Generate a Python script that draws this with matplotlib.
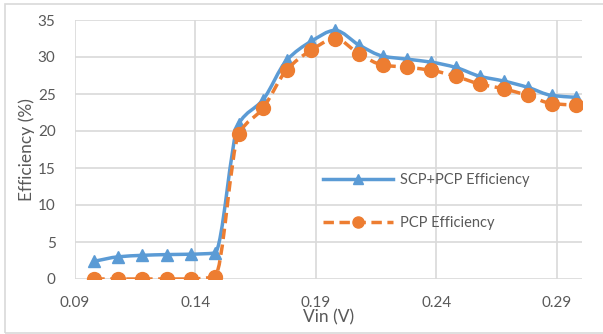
import matplotlib
matplotlib.use("Agg")
import matplotlib.pyplot as plt
import numpy as np
from matplotlib.path import Path
from matplotlib.patches import PathPatch, Rectangle
from matplotlib.lines import Line2D

plt.rcParams['font.family'] = ['Lato', 'DejaVu Sans']

# data
vin = [0.098, 0.108, 0.118, 0.128, 0.138, 0.148, 0.158, 0.168, 0.178, 0.188,
       0.198, 0.208, 0.218, 0.228, 0.238, 0.248, 0.258, 0.268, 0.278, 0.288, 0.298]
eff_scp_pcp = [2.4, 3.0, 3.2, 3.3, 3.35, 3.5, 21.0, 24.2, 29.6, 32.1,
               33.6, 31.6, 30.1, 29.7, 29.3, 28.6, 27.4, 26.75, 25.9, 24.8, 24.55]
eff_pcp = [0.0, 0.0, 0.0, 0.0, 0.0, 0.3, 19.6, 23.06, 28.3, 30.9,
           32.5, 30.4, 28.9, 28.6, 28.2, 27.4, 26.35, 25.7, 24.8, 23.7, 23.5]

labels = ['SCP+PCP Efficiency', 'PCP Efficiency']
xticks = [0.09, 0.14, 0.19, 0.24, 0.29]
yticks = [0, 5, 10, 15, 20, 25, 30, 35]

BLUE = '#5B9BD5'
ORANGE = '#ED7D31'
GRID = '#D9D9D9'
TXT = '#595959'


def smooth_path(x, y):
    # smoothed line like excel's: bezier segments through the points,
    # tangents from the harmonic mean of neighbouring slopes (no overshoot)
    x = np.asarray(x, float)
    y = np.asarray(y, float)
    n = len(x)
    h = np.diff(x)
    d = np.diff(y) / h
    m = np.zeros(n)
    m[0], m[-1] = d[0], d[-1]
    for i in range(1, n - 1):
        if d[i - 1] * d[i] > 0:
            m[i] = 2 * d[i - 1] * d[i] / (d[i - 1] + d[i])
    verts = [(x[0], y[0])]
    codes = [Path.MOVETO]
    for i in range(n - 1):
        verts += [(x[i] + h[i] / 3, y[i] + m[i] * h[i] / 3),
                  (x[i + 1] - h[i] / 3, y[i + 1] - m[i + 1] * h[i] / 3),
                  (x[i + 1], y[i + 1])]
        codes += [Path.CURVE4] * 3
    return Path(verts, codes)


fig = plt.figure(figsize=(6.03, 3.34), dpi=100)
ax = fig.add_axes([75 / 603, 1 - 279 / 334, 507 / 603, 259 / 334])

ax.add_patch(PathPatch(smooth_path(vin, eff_scp_pcp), fill=False, edgecolor=BLUE,
                       lw=2.5, capstyle='round', joinstyle='round', zorder=3))
ax.plot(vin, eff_scp_pcp, ls='none', marker='^', ms=9, color=BLUE, zorder=4)

ax.add_patch(PathPatch(smooth_path(vin, eff_pcp), fill=False, edgecolor=ORANGE,
                       lw=2.5, linestyle=(0, (3, 1.6)), zorder=5))
ax.plot(vin, eff_pcp, ls='none', marker='o', ms=10, color=ORANGE, zorder=6)

ax.set_xlim(0.09, 0.3005)
ax.set_ylim(0, 35)
ax.set_xticks(xticks)
ax.set_xticklabels(['%.2f' % v for v in xticks])
ax.set_yticks(yticks)
ax.grid(True, color=GRID, lw=1.2)
ax.set_axisbelow(True)
for s in ax.spines.values():
    s.set_visible(False)
ax.tick_params(axis='both', length=0, labelsize=11, labelcolor=TXT)
ax.tick_params(axis='x', pad=12)
ax.tick_params(axis='y', pad=14)
ax.set_xlabel('Vin (V)', fontsize=12.5, color=TXT, labelpad=0)
ax.set_ylabel('Efficiency (%)', fontsize=12.5, color=TXT, labelpad=2)

handles = [Line2D([], [], color=BLUE, lw=2.5, marker='^', ms=7),
           Line2D([], [], color=ORANGE, lw=2.5, ls=(0, (3, 1.6)), marker='o', ms=8)]
leg = ax.legend(handles, labels, loc='center left', bbox_to_anchor=(0.475, 0.30),
                frameon=False, fontsize=10.5, handlelength=4.8, handletextpad=0.5,
                labelspacing=2.0, borderpad=0, markerfirst=True)
for t in leg.get_texts():
    t.set_color(TXT)

# chart area border
fig.patches.append(Rectangle((5 / 603, 1 / 334), 1.0, 329 / 334, transform=fig.transFigure,
                             fill=False, edgecolor=GRID, lw=1.2))

fig.savefig('out.png', dpi=100)
